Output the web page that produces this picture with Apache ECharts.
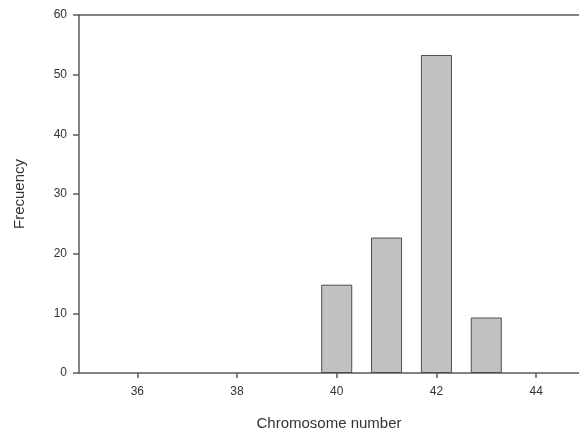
<!DOCTYPE html>
<html>
<head>
<meta charset="utf-8">
<script src="https://cdn.jsdelivr.net/npm/echarts@6/dist/echarts.min.js"></script>
<style>
  html, body { margin: 0; padding: 0; background: #fff; }
  #chart { width: 579px; height: 437px; }
</style>
</head>
<body>
<div id="chart"></div>
<script>
let chromosomes = [40, 41, 42, 43];
let frequencies = [14.8, 22.7, 53.3, 9.3];
let xTicks = [36, 38, 40, 42, 44];

let chart = echarts.init(document.getElementById('chart'));

let axisColor = '#5a5a5a';
let textColor = '#333';
let font = 'Liberation Sans';

let barData = chromosomes.map(function (c, i) {
    return [c, frequencies[i]];
});

let option = {
    animation: false,
    backgroundColor: '#fff',
    textStyle: {
        fontFamily: font,
        color: textColor
    },
    grid: {
        left: 79,
        top: 15,
        right: 0,
        bottom: 64
    },
    xAxis: [{
        type: 'value',
        min: 34.83,
        max: 44.86,
        name: 'Chromosome number',
        nameLocation: 'middle',
        nameGap: 43,
        nameTextStyle: {
            fontSize: 15,
            color: textColor,
            fontFamily: font
        },
        splitLine: { show: false },
        axisLine: {
            show: true,
            onZero: false,
            lineStyle: { color: axisColor, width: 1.5 }
        },
        axisTick: {
            show: true,
            length: 5,
            customValues: xTicks,
            lineStyle: { color: axisColor, width: 1.5 }
        },
        axisLabel: {
            customValues: xTicks,
            margin: 13,
            fontSize: 12,
            color: textColor,
            fontFamily: font
        }
    }, {
        type: 'value',
        position: 'top',
        min: 34.83,
        max: 44.86,
        splitLine: { show: false },
        axisLine: {
            show: true,
            onZero: false,
            lineStyle: { color: axisColor, width: 1.5 }
        },
        axisTick: { show: false },
        axisLabel: { show: false }
    }],
    yAxis: {
        type: 'value',
        min: 0,
        max: 60,
        interval: 10,
        name: 'Frecuency',
        nameLocation: 'middle',
        nameGap: 52,
        nameRotate: 90,
        nameTextStyle: {
            fontSize: 15,
            color: textColor,
            fontFamily: font
        },
        splitLine: { show: false },
        axisLine: {
            show: true,
            lineStyle: { color: axisColor, width: 1.5 }
        },
        axisTick: {
            show: true,
            length: 6,
            lineStyle: { color: axisColor, width: 1.5 }
        },
        axisLabel: {
            margin: 12,
            fontSize: 12,
            color: textColor,
            fontFamily: font
        }
    },
    series: [{
        type: 'bar',
        xAxisIndex: 0,
        data: barData,
        barWidth: 31,
        itemStyle: {
            color: '#c2c2c2',
            borderColor: '#4d4d4d',
            borderWidth: 1
        }
    }]
};

chart.setOption(option);
</script>
</body>
</html>
